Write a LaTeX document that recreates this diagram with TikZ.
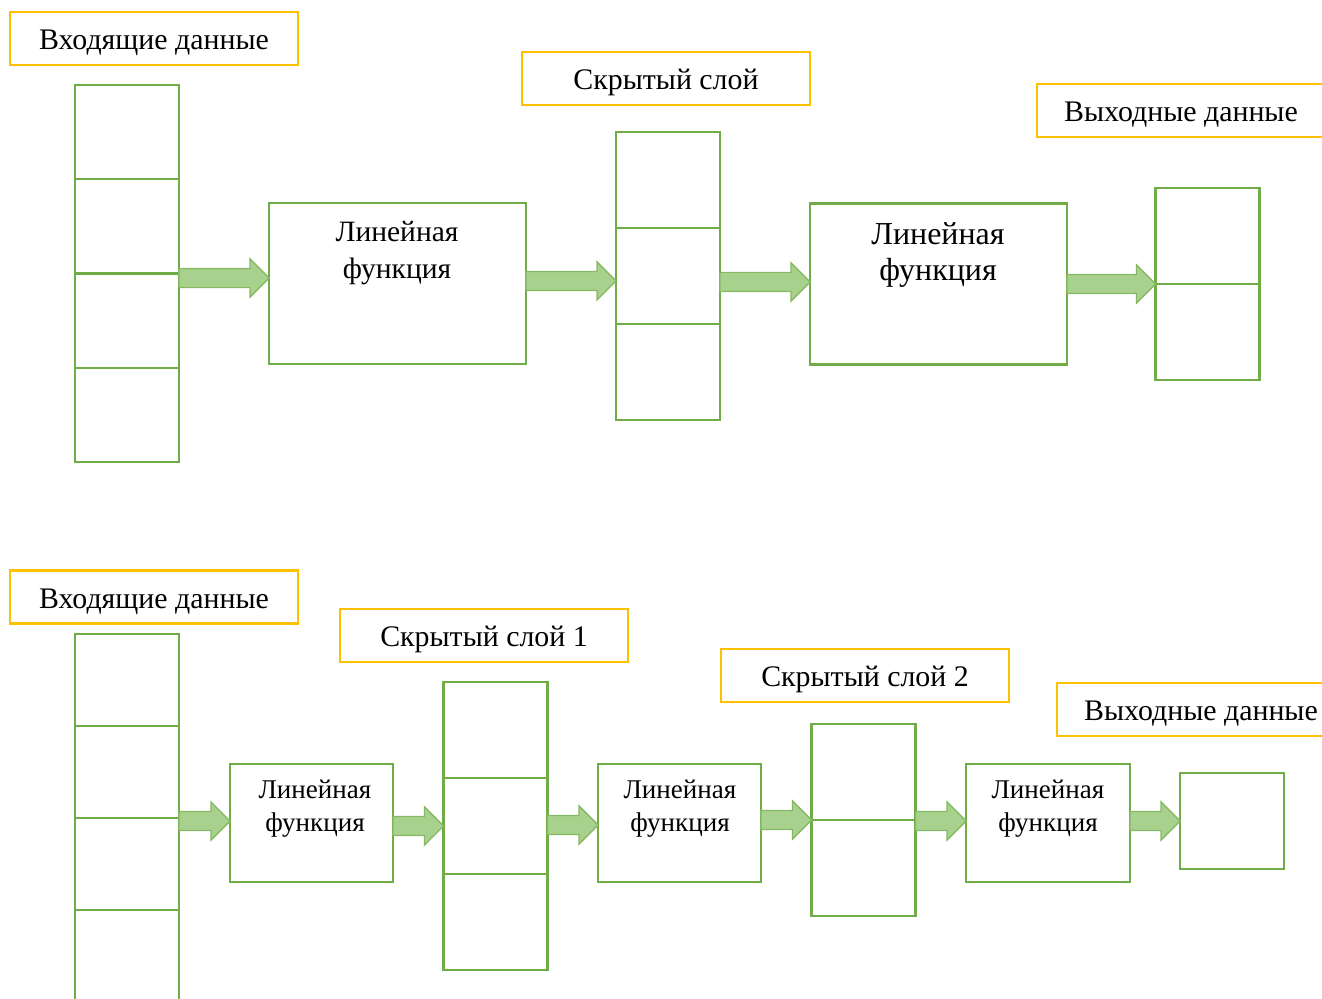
\documentclass[tikz,border=0pt]{standalone}
\usepackage{fontspec}
\setmainfont{Liberation Serif}
\usetikzlibrary{positioning,calc}

\definecolor{cellgreen}{HTML}{70AD47}
\definecolor{arrfill}{HTML}{A9D18E}
\definecolor{lblyellow}{HTML}{FFC000}

% block arrow from the column/box #1 to the point #2
\newcommand{\blockarr}[2]{%
  \draw[barr] ($(#1.east |- #2)+(0,-9.5)$) -- ($(#2)+(-19,-9.5)$)
    -- ($(#2)+(-19,-19)$) -- (#2) -- ($(#2)+(-19,19)$)
    -- ($(#2)+(-19,9.5)$) -- ($(#1.east |- #2)+(0,9.5)$) -- cycle;}

\begin{document}
\begin{tikzpicture}[
  x=0.02cm, y=-0.02cm, node distance=0pt,
  cell/.style={draw=cellgreen, line width=1.3pt, minimum width=2.08cm,
               minimum height=1.92cm, outer sep=0pt, inner sep=0pt},
  linbox/.style={draw=cellgreen, line width=1.3pt, outer sep=0pt, inner sep=0pt},
  lintext/.style={align=center, anchor=north, inner sep=0pt},
  lbl/.style={draw=lblyellow, line width=1.3pt, minimum width=5.76cm,
              minimum height=1.06cm, text height=13pt, text depth=0pt,
              font=\fontsize{17}{20}\selectfont},
  barr/.style={fill=arrfill, draw=cellgreen!85, line width=0.8pt},
]
\useasboundingbox (0,0) rectangle (1322,998);

%% --- one hidden layer ---
\node[lbl] (lin) at (154,38.5) {Входящие данные};
\node[lbl] (lhid) at (666,78.5) {Скрытый слой};
\node[lbl] (lout) at (1181,110.5) {Выходные данные};

\node[cell, minimum height=1.885cm, anchor=north] (in1) at (127,85) {};
\node[cell, minimum height=1.885cm, below=of in1] (in2) {};
\node[cell, minimum height=1.885cm, below=of in2] (in3) {};
\node[cell, minimum height=1.885cm, below=of in3] (in4) {};

\node[linbox, minimum width=5.14cm, minimum height=3.22cm] (f1) at (397.5,283.5) {};
\node[lintext, font=\fontsize{16.8}{21}\selectfont] (f1t) at (397,221) {Линейная\\функция};

\node[cell, anchor=north] (h1) at (668,132) {};
\node[cell, below=of h1] (h2) {};
\node[cell, below=of h2] (h3) {};

\node[linbox, minimum width=5.14cm, minimum height=3.22cm] (f2) at (938.5,284) {};
\node[lintext, font=\fontsize{18.2}{20.4}\selectfont] (f2t) at (938,222) {Линейная\\функция};

\node[cell, anchor=north] (o1) at (1207.5,188) {};
\node[cell, below=of o1] (o2) {};

\coordinate (tipa) at ($(f1.west)+(0,-5.5)$);
\coordinate (tipb) at ($(h2.west)+(0,5)$);
\coordinate (tipc) at ($(f2.west)+(0,-2)$);
\blockarr{in2}{tipa}
\blockarr{f1}{tipb}
\blockarr{h2}{tipc}
\blockarr{f2}{o1.south west}

%% --- two hidden layers ---
\node[lbl] (bin) at (154,597) {Входящие данные};
\node[lbl] (bhidA) at (484,635.5) {Скрытый слой 1};
\node[lbl] (bhidB) at (865,675.5) {Скрытый слой 2};
\node[lbl] (bout) at (1201,709.5) {Выходные данные};

\node[cell, minimum height=1.84cm, anchor=north] (bi1) at (127,634) {};
\node[cell, minimum height=1.84cm, below=of bi1] (bi2) {};
\node[cell, minimum height=1.84cm, below=of bi2] (bi3) {};
\node[cell, minimum height=1.84cm, below=of bi3] (bi4) {};

\node[linbox, minimum width=3.26cm, minimum height=2.36cm] (g1) at (311.5,823) {};
\node[lintext, font=\fontsize{15.4}{18.5}\selectfont] (g1t) at (315,780) {Линейная\\функция};

\node[cell, anchor=north] (ha1) at (495.5,682) {};
\node[cell, below=of ha1] (ha2) {};
\node[cell, below=of ha2] (ha3) {};

\node[linbox, minimum width=3.26cm, minimum height=2.36cm] (g2) at (679.5,823) {};
\node[lintext, font=\fontsize{15.4}{18.5}\selectfont] (g2t) at (680,780) {Линейная\\функция};

\node[cell, anchor=north] (hb1) at (863.5,724) {};
\node[cell, below=of hb1] (hb2) {};

\node[linbox, minimum width=3.28cm, minimum height=2.36cm] (g3) at (1048,823) {};
\node[lintext, font=\fontsize{15.4}{18.5}\selectfont] (g3t) at (1048,780) {Линейная\\функция};

\node[cell] (bo1) at (1232,821) {};

\coordinate (tipd) at ($(g1.west)+(0,-2)$);
\coordinate (tipe) at ($(g2.west)+(0,2)$);
\coordinate (tipf) at ($(g3.west)+(0,-2)$);
\blockarr{bi2}{tipd}
\blockarr{g1}{ha2.west}
\blockarr{ha2}{tipe}
\blockarr{g2}{hb1.south west}
\blockarr{hb1}{tipf}
\blockarr{g3}{bo1.west}
\end{tikzpicture}
\end{document}
